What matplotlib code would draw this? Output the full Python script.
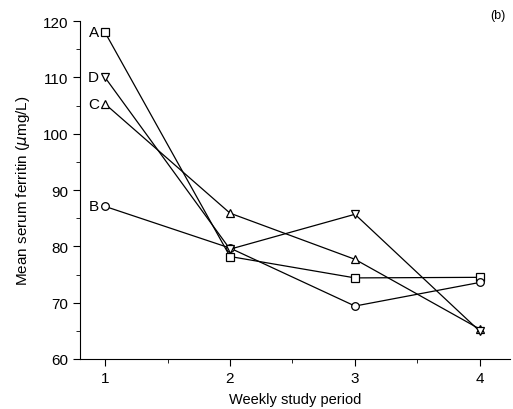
import numpy as np
import matplotlib.pyplot as plt
from matplotlib.ticker import MultipleLocator

plt.rcParams['font.family'] = ['Liberation Sans', 'DejaVu Sans']

weeks = [1, 2, 3, 4]
groups = ['A', 'B', 'C', 'D']
markers = ['s', 'o', '^', 'v']
ferritin_a = [118, 78.2, 74.4, 74.5]
ferritin_b = [87.1, 79.7, 69.4, 73.6]
ferritin_c = [105.3, 85.9, 77.7, 65.3]
ferritin_d = [110, 79.5, 85.7, 64.9]
values = [ferritin_a, ferritin_b, ferritin_c, ferritin_d]

fig = plt.figure(figsize=(5.13, 4.10), dpi=100)
ax = fig.add_axes([0.156, 0.122, 0.838, 0.824])

for name, mk, vals in zip(groups, markers, values):
    ax.plot(weeks, vals, color='black', lw=0.9, marker=mk, markersize=5.5,
            markerfacecolor='white', markeredgecolor='black', markeredgewidth=0.9)
    ax.text(weeks[0] - 0.05, vals[0], name, ha='right', va='center', fontsize=11)

ax.set_xlim(0.8, 4.24)
ax.set_ylim(60, 120)
ax.set_xticks(weeks)
ax.xaxis.set_minor_locator(MultipleLocator(0.5))
ax.yaxis.set_major_locator(MultipleLocator(10))
ax.yaxis.set_minor_locator(MultipleLocator(5))
ax.spines['top'].set_visible(False)
ax.spines['right'].set_visible(False)
ax.tick_params(which='major', length=5, labelsize=11)
ax.tick_params(which='minor', length=3)

ax.set_xlabel('Weekly study period', fontsize=10.5, labelpad=5)
ax.set_ylabel(r'Mean serum ferritin ($\mu$mg/L)', fontsize=11, labelpad=8)
fig.text(0.985, 0.975, '(b)', ha='right', va='top', fontsize=9)

fig.savefig('out.png', dpi=100)
